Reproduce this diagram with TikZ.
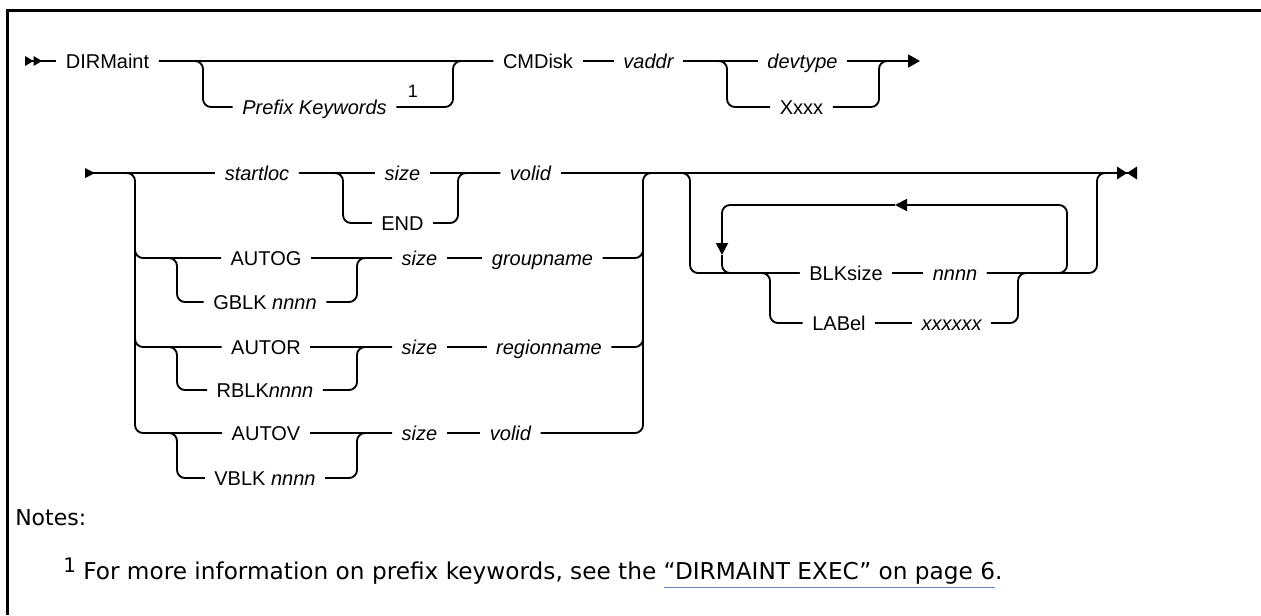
\documentclass[tikz,border=0pt]{standalone}
\usepackage{fontspec}
\setmainfont{Liberation Sans}
\newfontfamily\notefont{DejaVu Sans}
\usetikzlibrary{arrows.meta}
\definecolor{linkblue}{RGB}{104,134,196}
\newcommand{\fnlink}[1]{\setbox0\hbox{#1}\rlap{\color{linkblue}\rule[-6.8pt]{\wd0}{0.9pt}}\box0}

\begin{document}
\begin{tikzpicture}[x=0.75pt, y=-0.75pt,
  rail/.style={line width=1.4pt, rounded corners=6pt},
  railtip/.style={-{Triangle[length=9pt,width=9pt]}},
  kword/.style={inner xsep=7pt, inner ysep=0pt, text height=10.7pt, text depth=0pt, font=\fontsize{15pt}{18pt}\selectfont},
  varname/.style={kword, font=\fontsize{15pt}{18pt}\selectfont\itshape}]
\useasboundingbox (0,0) rectangle (1261,615);
\draw[line width=2.2pt] (7.5,615) -- (7.5,10.5) -- (1261,10.5);

\node[kword] (dir) at (107.5,61) {DIRMaint};
\node[varname] (pk) at (314.5,107) {Prefix Keywords};
\node[inner sep=0pt, font=\fontsize{13.5pt}{15pt}\selectfont] (fn1) at (413,91) {1};
\node[kword] (cm) at (538,61) {CMDisk};
\node[varname] (va) at (648.5,61) {vaddr};
\node[varname] (dt) at (802.5,61) {devtype};
\node[kword] (xx) at (801.5,107) {Xxxx};
\coordinate (s1) at (25,61);
\coordinate (j1) at (203,61);
\coordinate (j2) at (453,61);
\coordinate (j3) at (727,61);
\coordinate (j4) at (879,61);
\coordinate (e1) at (920,61);

\draw[rail] (s1) -- (dir.west);
\draw[rail] (dir.east) -- (cm.west);
\draw[rail] (dir.east) -| (j1 |- pk) -- (pk.west);
\draw[rail] (pk.east) -| (j2) -- (cm.west);
\draw[rail] (cm.east) -- (va.west);
\draw[rail] (va.east) -- (dt.west);
\draw[rail] (va.east) -| (j3 |- xx) -- (xx.west);
\draw[rail, -{Triangle[length=9pt,width=9.75pt]}] (dt.east) -- (e1);
\draw[rail] (xx.east) -| (j4) -- ([xshift=8pt]j4);
\fill (s1) ++(0,-5) -- ++(8.5,5) -- ++(-8.5,5) -- cycle;
\fill (s1) ++(8.5,-5) -- ++(8.5,5) -- ++(-8.5,5) -- cycle;

\coordinate (s2) at (85,173);
\coordinate (k1) at (135,173);
\node[varname] (sl) at (257,173) {startloc};
\node[varname] (sz1) at (402.5,173) {size};
\node[kword] (en) at (402.5,223) {END};
\node[varname] (vl1) at (530.5,173) {volid};
\coordinate (es) at (343,173);
\coordinate (ec) at (458,173);
\node[kword] (ag) at (266,258) {AUTOG};
\node[kword] (gb) at (265,302) {GBLK \textit{nnnn}};
\node[varname] (sz2) at (419.5,258) {size};
\node[varname] (gn) at (542.5,258) {groupname};
\coordinate (gs) at (177,258);
\coordinate (gc) at (357,258);
\node[kword] (ar) at (266,347) {AUTOR};
\node[kword] (rb) at (265,390) {RBLK\textit{nnnn}};
\node[varname] (sz3) at (419.5,347) {size};
\node[varname] (rn) at (549,347) {regionname};
\coordinate (rs) at (177,347);
\coordinate (rc) at (357,347);
\node[kword] (av) at (266,433) {AUTOV};
\node[kword] (vb) at (265,478) {VBLK \textit{nnnn}};
\node[varname] (sz4) at (419.5,433) {size};
\node[varname] (vo2) at (510.5,433) {volid};
\coordinate (vs) at (177,433);
\coordinate (vc) at (357,433);
\coordinate (c1) at (643,173);
\coordinate (c2) at (690,173);
\node[kword] (bk) at (846,273) {BLKsize};
\node[varname] (nn) at (955,273) {nnnn};
\node[kword] (lb) at (839,323) {LABel};
\node[varname] (xs) at (951.5,323) {xxxxxx};
\coordinate (ls) at (770,273);
\coordinate (lc) at (1018,273);
\coordinate (lt) at (722,255);
\coordinate (lr) at (1067,205);
\coordinate (la) at (895,205);
\coordinate (d2) at (1097,173);
\coordinate (e2) at (1137,173);

\draw[rail] (s2) -- (sl.west);
\draw[rail] (s2) -| (k1 |- av) -- (av.west);
\draw[rail] (sl.east) -- (sz1.west);
\draw[rail] (sl.east) -| (es |- en) -- (en.west);
\draw[rail] (en.east) -| (ec) -- (vl1.west);
\draw[rail] (sz1.east) -- (vl1.west);
\draw[rail] (vl1.east) -- (e2);
\fill (s2) ++(0,-5) -- ++(10,5) -- ++(-10,5) -- cycle;

\draw[rail] (k1 |- en) |- (ag.west);
\draw[rail] ([xshift=-12pt]gs) -| (gs |- gb) -- (gb.west);
\draw[rail] (ag.east) -- (sz2.west);
\draw[rail] (gb.east) -| (gc) -- (sz2.west);
\draw[rail] (sz2.east) -- (gn.west);
\draw[rail] (gn.east) -| (c1 |- en);

\draw[rail] (k1 |- gb) |- (ar.west);
\draw[rail] ([xshift=-12pt]rs) -| (rs |- rb) -- (rb.west);
\draw[rail] (ar.east) -- (sz3.west);
\draw[rail] (rb.east) -| (rc) -- (sz3.west);
\draw[rail] (sz3.east) -- (rn.west);
\draw[rail] (rn.east) -| (c1 |- gb);

\draw[rail] ([xshift=-12pt]vs) -| (vs |- vb) -- (vb.west);
\draw[rail] (av.east) -- (sz4.west);
\draw[rail] (vb.east) -| (vc) -- (sz4.west);
\draw[rail] (sz4.east) -- (vo2.west);
\draw[rail] (vo2.east) -| (c1) -- (c2);

\draw[rail] (c1) -| (c2 |- bk) -- (bk.west);
\draw[rail] (lt |- bk) -| (ls |- lb) -- (lb.west);
\draw[rail] (bk.east) -- (nn.west);
\draw[rail] (lb.east) -- (xs.west);
\draw[rail] (nn.east) -| (d2) -- (e2);
\draw[rail] (xs.east) -| (lc) -- (lr |- lc);
\draw[rail, railtip] (nn.east) -| (lr) -- (la);
\draw[rail, railtip] (la) -| (lt);
\draw[rail] (lt) |- (bk.west);
\fill (e2) ++(-20,-6.5) -- ++(10,6.5) -- ++(-10,6.5) -- cycle;
\fill (e2) ++(0,-6.5) -- ++(-10,6.5) -- ++(10,6.5) -- cycle;

\node[anchor=west, inner sep=0pt, font=\notefont\fontsize{16.5pt}{20pt}\selectfont] (nt) at (15,518) {Notes:};
\node[anchor=base west, inner sep=0pt, font=\notefont\fontsize{17.4pt}{20pt}\selectfont] (fn) at (63,579) {\raisebox{5pt}{\fontsize{15pt}{15pt}\selectfont 1} For more information on prefix keywords, see the \fnlink{“DIRMAINT EXEC” on page 6}.};
\end{tikzpicture}
\end{document}
